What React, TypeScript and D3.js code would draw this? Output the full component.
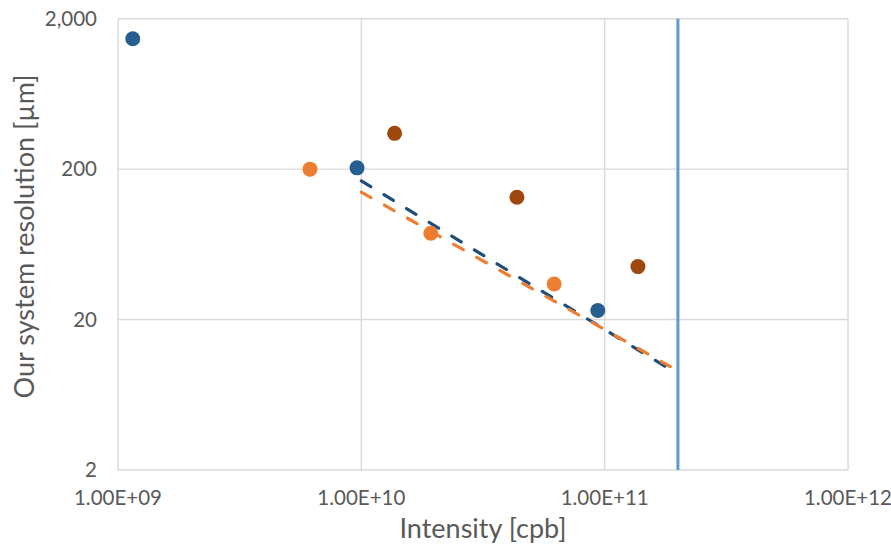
import React from "react";
import * as d3 from "d3";

const blueX = [1.15e9, 9.6e9, 9.37e10];
const blueY = [1470, 204, 23];
const orangeX = [6.15e9, 1.93e10, 6.2e10];
const orangeY = [200, 75, 34.5];
const brownX = [1.37e10, 4.36e10, 1.37e11];
const brownY = [346, 130, 45];
const blueTrendX = [1.0e10, 2.0e11];
const blueTrendY = [167, 8.67];
const orangeTrendX = [1.0e10, 1.86e11];
const orangeTrendY = [140.5, 9.74];
const limitX = 2e11;
const xTicks = [1e9, 1e10, 1e11, 1e12];
const xTickLabels = ["1.00E+09", "1.00E+10", "1.00E+11", "1.00E+12"];
const yTicks = [2, 20, 200, 2000];
const yTickLabels = ["2", "20", "200", "2,000"];
const xTitle = "Intensity [cpb]";
const yTitle = "Our system resolution [µm]";

const W = 891;
const H = 555;
const left = 118;
const right = 848;
const top = 18.7;
const bottom = 470;

export default function App() {
  const x = d3.scaleLog().domain([1e9, 1e12]).range([left, right]);
  const y = d3.scaleLog().domain([2, 2000]).range([bottom, top]);
  const line = d3
    .line<[number, number]>()
    .x((d) => x(d[0]))
    .y((d) => y(d[1]));
  const pts = (xs: number[], ys: number[]) => xs.map((v, i) => [v, ys[i]] as [number, number]);
  const font = "Lato, 'Open Sans', sans-serif";
  const grid = "#D9D9D9";
  const text = "#595959";

  const dots = (xs: number[], ys: number[], color: string) =>
    xs.map((v, i) => <circle key={color + i} cx={x(v)} cy={y(ys[i])} r={7.5} fill={color} />);

  return (
    <svg
      width={W}
      height={H}
      style={{ position: "absolute", left: 0, top: 0, background: "#fff" }}
      fontFamily={font}
    >
      <rect x={0} y={0} width={W} height={H} fill="#fff" />
      {xTicks.map((t) => (
        <line key={"gx" + t} x1={x(t)} x2={x(t)} y1={top} y2={bottom} stroke={grid} strokeWidth={1.4} />
      ))}
      {yTicks.map((t) => (
        <line key={"gy" + t} x1={left} x2={right} y1={y(t)} y2={y(t)} stroke={grid} strokeWidth={1.4} />
      ))}
      {xTicks.map((t, i) => (
        <text key={"tx" + t} x={x(t)} y={505} textAnchor="middle" fontSize={20.5} fill={text}>
          {xTickLabels[i]}
        </text>
      ))}
      {yTicks.map((t, i) => (
        <text key={"ty" + t} x={97} y={y(t)} dy="0.35em" textAnchor="end" fontSize={20.5} fill={text}>
          {yTickLabels[i]}
        </text>
      ))}
      <path
        d={line(pts(blueTrendX, blueTrendY)) || ""}
        fill="none"
        stroke="#1F4E79"
        strokeWidth={3.2}
        strokeDasharray="11 15.5"
        strokeLinecap="round"
      />
      <path
        d={line(pts(orangeTrendX, orangeTrendY)) || ""}
        fill="none"
        stroke="#ED7D31"
        strokeWidth={3.2}
        strokeDasharray="11 15.5"
        strokeLinecap="round"
      />
      <line x1={x(limitX)} x2={x(limitX)} y1={top} y2={bottom} stroke="#5B9BD5" strokeWidth={3} />
      {dots(blueX, blueY, "#255E91")}
      {dots(orangeX, orangeY, "#ED7D31")}
      {dots(brownX, brownY, "#9E480E")}
      <text x={(left + right) / 2} y={538} textAnchor="middle" fontSize={27} fill={text}>
        {xTitle}
      </text>
      <text
        transform={`translate(34, ${(78 + 395) / 2}) rotate(-90)`}
        textAnchor="middle"
        fontSize={27}
        fill={text}
      >
        {yTitle}
      </text>
    </svg>
  );
}
